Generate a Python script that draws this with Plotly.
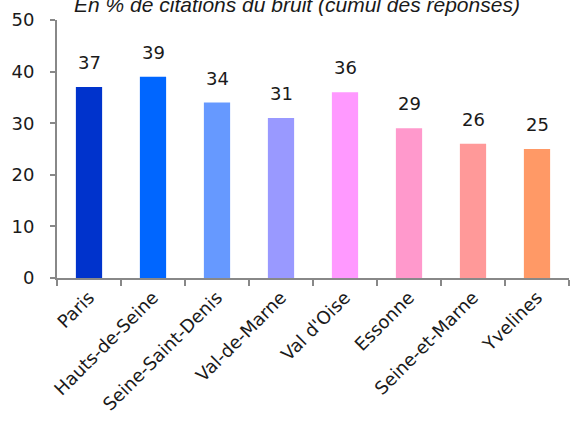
import plotly.graph_objects as go

categories = ["Paris", "Hauts-de-Seine", "Seine-Saint-Denis", "Val-de-Marne",
              "Val d'Oise", "Essonne", "Seine-et-Marne", "Yvelines"]
values = [37, 39, 34, 31, 36, 29, 26, 25]
colors = ["#0033CC", "#0066FF", "#6699FF", "#9999FF",
          "#FF99FF", "#FF99CC", "#FF9999", "#FF9966"]
title_text = "En % de citations du bruit (cumul des réponses)"
y_ticks = [0, 10, 20, 30, 40, 50]

fig = go.Figure()
fig.add_trace(go.Bar(x=categories, y=values, marker=dict(color=colors, line=dict(width=0)),
                     hoverinfo="skip"))

for c, v in zip(categories, values):
    fig.add_annotation(x=c, y=v, text=str(v), showarrow=False, yanchor="bottom",
                       yshift=12, font=dict(family="DejaVu Sans", size=18, color="#1a1a1a"))

fig.add_annotation(xref="paper", yref="paper", x=0.468, y=1, xanchor="center", yanchor="bottom",
                   yshift=2, text=title_text, showarrow=False,
                   font=dict(family="Liberation Sans", size=21, color="#1a1a1a", style="italic"))

fig.update_layout(
    width=570, height=422,
    margin=dict(l=57, r=1, t=20, b=144, autoexpand=False),
    plot_bgcolor="white", paper_bgcolor="white",
    bargap=0.59, showlegend=False,
    font=dict(family="DejaVu Sans", color="#1a1a1a"),
)
fig.update_yaxes(range=[0, 50], tickvals=y_ticks, showgrid=False, zeroline=False,
                 showline=True, linecolor="#888888", linewidth=2, automargin=False,
                 ticks="outside", ticklen=5, tickwidth=2, tickcolor="#888888",
                 tickfont=dict(size=18, family="DejaVu Sans", color="#1a1a1a"),
                 ticklabelstandoff=12)
fig.update_xaxes(showgrid=False, showline=True, linecolor="#888888", linewidth=2,
                 ticks="outside", ticklen=6, tickwidth=2, tickcolor="#888888",
                 tickson="boundaries", tickangle=-45, automargin=False,
                 tickfont=dict(size=18, family="DejaVu Sans", color="#1a1a1a"))

fig.write_html("out.html", config={"displayModeBar": False},
               post_script="document.body.style.margin='0';")
